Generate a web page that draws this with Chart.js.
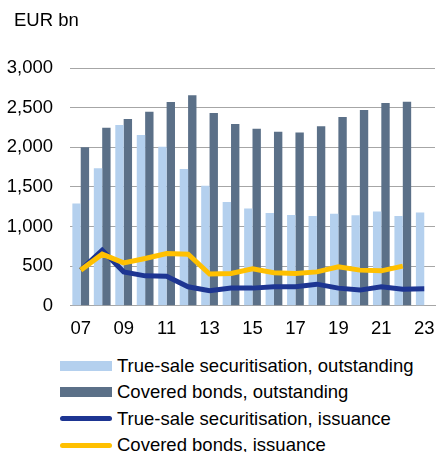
<!DOCTYPE html>
<html>
<head>
<meta charset="utf-8">
<script src="https://cdn.jsdelivr.net/npm/chart.js@4/dist/chart.umd.min.js"></script>
<style>
  body { margin: 0; background: #fff; font-family: "Liberation Sans", Arial, sans-serif; }
  #wrap { position: relative; width: 436px; height: 452px; }
  #chart { position: absolute; left: 0; top: 0; }
  #unit { position: absolute; left: 14px; top: 9px; font-size: 18.5px; line-height: 22px; color: #000; }
  #legend { position: absolute; left: 60px; top: 353px; font-size: 18.5px; color: #000; }
  .row { height: 26.3px; line-height: 26.3px; display: flex; align-items: center; white-space: nowrap; }
  .sw { width: 52px; margin-right: 5px; }
</style>
</head>
<body>
<div id="wrap">
  <canvas id="chart" width="436" height="352"></canvas>
  <div id="unit">EUR bn</div>
  <div id="legend"></div>
</div>
<script>
var years = ['07', '08', '09', '10', '11', '12', '13', '14', '15', '16', '17', '18', '19', '20', '21', '22', '23'];
var tsOutstanding = [1290, 1735, 2280, 2155, 2005, 1727, 1516, 1311, 1227, 1172, 1147, 1134, 1160, 1143, 1189, 1134, 1176];
var cbOutstanding = [2000, 2247, 2357, 2449, 2571, 2656, 2433, 2294, 2235, 2197, 2185, 2265, 2382, 2470, 2558, 2575, null];
var tsIssuance = [450, 701, 428, 378, 374, 240, 189, 223, 223, 240, 240, 273, 223, 198, 240, 210, 214];
var cbIssuance = [450, 651, 542, 597, 660, 651, 400, 408, 466, 416, 408, 428, 491, 450, 441, 500, null];

var names = ['True-sale securitisation, outstanding', 'Covered bonds, outstanding',
             'True-sale securitisation, issuance', 'Covered bonds, issuance'];
var colors = ['#B4D0EE', '#5B7088', '#1D3592', '#FFC000'];

var tickFont = { family: '"Liberation Sans", Arial, sans-serif', size: 18.5 };

var chart = new Chart(document.getElementById('chart'), {
  type: 'bar',
  data: {
    labels: years,
    datasets: [
      { label: names[0], data: tsOutstanding, backgroundColor: colors[0], order: 2 },
      { label: names[1], data: cbOutstanding, backgroundColor: colors[1], order: 3 },
      { type: 'line', label: names[2], data: tsIssuance, borderColor: colors[2], backgroundColor: colors[2],
        borderWidth: 5, pointRadius: 0, tension: 0, order: 1 },
      { type: 'line', label: names[3], data: cbIssuance, borderColor: colors[3], backgroundColor: colors[3],
        borderWidth: 5, pointRadius: 0, tension: 0, order: 0 }
    ]
  },
  options: {
    responsive: false,
    animation: false,
    layout: { padding: { left: 0, right: 1, top: 68, bottom: 0 } },
    datasets: { bar: { categoryPercentage: 0.78, barPercentage: 1.0 } },
    plugins: {
      legend: { display: false },
      tooltip: { enabled: false }
    },
    scales: {
      x: {
        grid: { display: false, drawTicks: false },
        border: { display: true, color: '#A6A6A6', width: 1 },
        ticks: {
          color: '#000', font: tickFont, padding: 12, autoSkip: false, maxRotation: 0,
          callback: function (v, i) { return i % 2 === 0 ? years[i] : ''; }
        },
        afterFit: function (s) { s.paddingLeft = 0; s.paddingRight = 0; }
      },
      y: {
        min: 0, max: 3000,
        grid: { color: '#A6A6A6', lineWidth: 1, drawTicks: false },
        border: { display: false },
        ticks: {
          color: '#000', font: tickFont, padding: 17, stepSize: 500,
          callback: function (v) { return v.toLocaleString('en-US'); }
        },
        afterFit: function (s) { s.width = 70; }
      }
    }
  }
});

// legend below the chart, one item per row
var legend = document.getElementById('legend');
chart.data.datasets.forEach(function (ds, i) {
  var row = document.createElement('div');
  row.className = 'row';
  var sw = document.createElement('span');
  sw.className = 'sw';
  if (ds.type === 'line') {
    sw.style.height = '5px';
    sw.style.borderRadius = '3px';
  } else {
    sw.style.height = '10px';
  }
  sw.style.background = colors[i];
  var txt = document.createElement('span');
  txt.textContent = names[i];
  row.appendChild(sw);
  row.appendChild(txt);
  legend.appendChild(row);
});
</script>
</body>
</html>
